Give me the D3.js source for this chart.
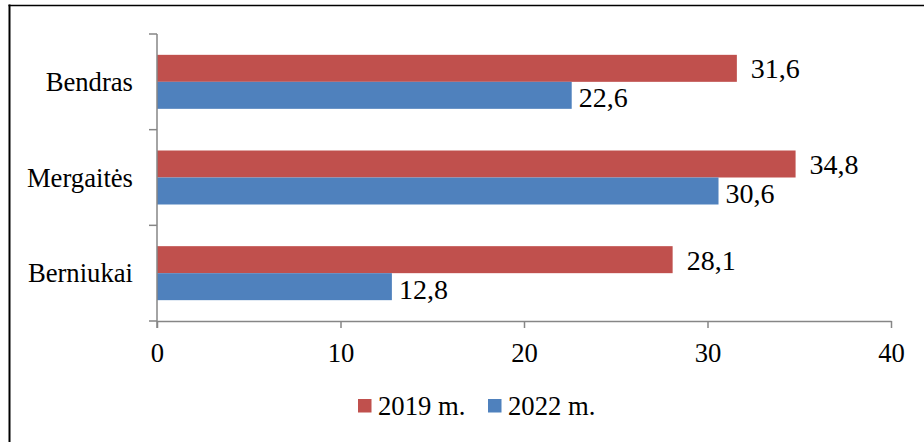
<!DOCTYPE html>
<html>
<head>
<meta charset="utf-8">
<script src="https://cdn.jsdelivr.net/npm/d3@7"></script>
<style>
  html, body { margin: 0; padding: 0; background: #fff; }
  svg { display: block; }
  text { font-family: "Liberation Serif", "Times New Roman", serif; fill: #000; }
</style>
</head>
<body>
<svg id="chart" width="924" height="442"></svg>
<script>
// ---- data ----
const categories = ["Bendras", "Mergaitės", "Berniukai"];
const seriesNames = ["2019 m.", "2022 m."];
const values2019 = [31.6, 34.8, 28.1];
const values2022 = [22.6, 30.6, 12.8];
const xTicks = [0, 10, 20, 30, 40];

// ---- styles ----
const colors = ["#C0504D", "#4F81BD"];
const axisColor = "#868686";
const fontSize = 26.67;
const valueFontSize = 28;
const serif = '"Liberation Serif", "Times New Roman", serif';

const svg = d3.select("#chart");
const W = 924, H = 442;

// frame (only left and top edges are visible in the reference)
svg.append("line").attr("x1", 9.5).attr("x2", 9.5).attr("y1", 4.5).attr("y2", H)
  .attr("stroke", "#000").attr("stroke-width", 2);
svg.append("line").attr("x1", 8.5).attr("x2", W).attr("y1", 5.5).attr("y2", 5.5)
  .attr("stroke", "#000").attr("stroke-width", 1.5);

const plot = { left: 157, right: 891, top: 34, bottom: 321 };

const x = d3.scaleLinear().domain([0, 40]).range([plot.left, plot.right]);
const y0 = d3.scaleBand().domain(categories).range([plot.top, plot.bottom]).padding(0);
const y1 = d3.scaleBand().domain(seriesNames).range([0, y0.bandwidth()])
  .paddingInner(0).paddingOuter(0.7716);

const seriesValues = [values2019, values2022];

// bars
seriesNames.forEach((s, si) => {
  const g = svg.append("g");
  g.selectAll("rect").data(categories).join("rect")
    .attr("x", x(0))
    .attr("y", c => y0(c) + y1(s))
    .attr("width", (c, i) => x(seriesValues[si][i]) - x(0))
    .attr("height", y1.bandwidth())
    .attr("fill", colors[si]);
});

// x axis
const xAxis = d3.axisBottom(x).tickValues(xTicks).tickSize(7).tickSizeOuter(0)
  .tickPadding(15).tickFormat(d3.format("d"));
const gx = svg.append("g").attr("transform", `translate(0,${plot.bottom})`).call(xAxis);
gx.select(".domain").attr("stroke", axisColor).attr("stroke-width", 1.5);
gx.selectAll(".tick line").attr("stroke", axisColor).attr("stroke-width", 1.5);
gx.selectAll(".tick text").style("font-family", serif)
  .style("font-size", fontSize + "px").attr("fill", "#000");

// y axis line and boundary ticks
const gy = svg.append("g");
gy.append("line").attr("x1", x(0)).attr("x2", x(0))
  .attr("y1", plot.top).attr("y2", plot.bottom + 7)
  .attr("stroke", axisColor).attr("stroke-width", 1.5);
const bounds = categories.map(c => y0(c)).concat([y0.range()[1]]);
gy.selectAll("line.tk").data(bounds).join("line").attr("class", "tk")
  .attr("x1", x(0) - 8).attr("x2", x(0))
  .attr("y1", d => d).attr("y2", d => d)
  .attr("stroke", axisColor).attr("stroke-width", 1.5);

// category labels
svg.append("g").selectAll("text").data(categories).join("text")
  .attr("x", 133)
  .attr("y", c => y0(c) + y0.bandwidth() / 2 + 9)
  .attr("text-anchor", "end")
  .style("font-family", serif)
  .style("font-size", fontSize + "px")
  .text(c => c);

// value labels
const labelGap = [14, 7];
const labelDy = [10, 12];
seriesNames.forEach((s, si) => {
  svg.append("g").selectAll("text").data(categories).join("text")
    .attr("x", (c, i) => x(seriesValues[si][i]) + labelGap[si])
    .attr("y", c => y0(c) + y1(s) + y1.bandwidth() / 2 + labelDy[si])
    .style("font-family", serif)
    .style("font-size", valueFontSize + "px")
    .text((c, i) => d3.format(".1f")(seriesValues[si][i]).replace(".", ","));
});

// legend
const legendItems = [{ x: 358 }, { x: 488 }];
const lg = svg.append("g");
seriesNames.forEach((s, si) => {
  const lx = legendItems[si].x;
  lg.append("rect").attr("x", lx).attr("y", 399).attr("width", 13.5).attr("height", 13.5)
    .attr("fill", colors[si]);
  lg.append("text").attr("x", lx + 20).attr("y", 415)
    .style("font-family", serif)
    .style("font-size", fontSize + "px").text(s);
});
</script>
</body>
</html>
